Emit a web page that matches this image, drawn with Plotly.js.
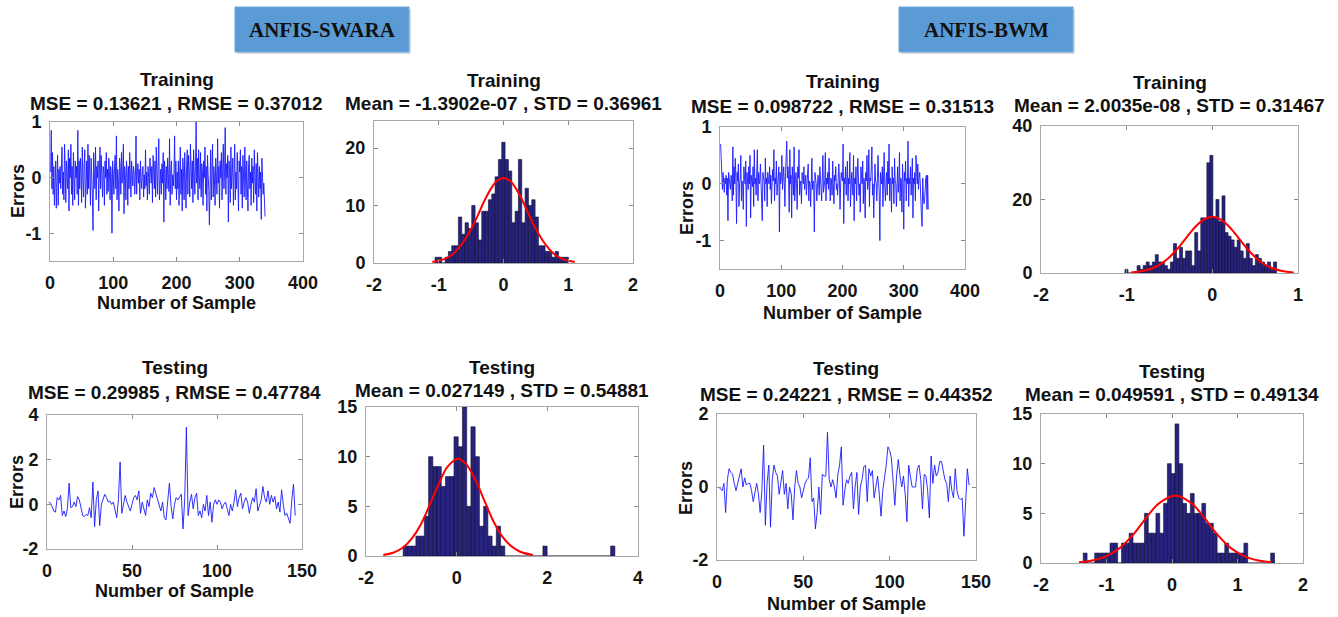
<!DOCTYPE html>
<html><head><meta charset="utf-8">
<script src="https://cdn.plot.ly/plotly-3.0.1.min.js"></script>
<style>html,body{margin:0;padding:0;background:#fff;}#chart{width:1338px;height:617px;}</style>
</head><body><div id="chart"></div>
<script>
// ---------------- DATA ----------------
const swaraTrainErr = [
0.1,0.85,-0.2,0.45,-0.3,0.2,-0.5,0.1,0.3,-0.55,0.0,0.4,-0.5,0.15,-0.1,0.2,-0.2,0.15,0.55,-0.3,
0.1,-0.4,0.6,0.2,-0.45,0.3,0.1,-0.2,0.5,-0.6,0.35,0.0,0.6,-0.3,0.2,-0.5,0.45,0.1,-0.4,0.3,
0.0,0.2,-0.3,0.85,-0.5,0.3,-0.2,0.35,0.1,-0.45,0.55,0.0,-0.35,0.25,0.5,-0.55,0.1,0.3,-0.3,0.6,
-0.2,0.4,0.0,-0.5,0.35,0.1,-0.3,-0.95,0.45,0.1,-0.2,0.55,-0.4,0.2,0.0,0.3,-0.6,0.1,0.55,-0.2,
0.4,0.05,-0.35,0.2,0.1,-0.5,0.3,0.0,0.45,-0.3,0.15,-0.25,0.35,0.1,-0.4,0.2,0.0,-1.0,0.3,0.05,
-0.3,0.2,0.4,-0.2,0.75,-0.4,0.15,0.0,-0.6,0.35,0.2,-0.3,0.45,-0.1,0.1,0.6,-0.65,0.2,0.05,-0.4,
0.3,0.1,-0.5,0.2,-0.2,0.45,0.05,-0.35,0.3,0.0,-0.15,0.2,0.1,-0.3,0.0,0.75,-0.3,0.1,0.25,-0.1,
0.15,-0.4,0.3,0.0,-0.2,0.1,0.2,-0.35,0.05,-0.2,0.5,-0.15,0.1,-0.4,0.2,0.0,-0.3,0.35,0.1,-0.1,
0.2,-0.45,0.4,0.0,-0.2,0.3,-0.35,0.55,0.05,-0.3,0.2,0.7,-0.4,0.0,0.15,-0.3,0.25,-0.1,0.45,-0.8,
0.3,0.1,-0.4,0.2,-0.2,0.35,0.0,-0.25,0.7,-0.5,0.1,0.3,-0.3,0.05,-0.15,0.1,0.75,-0.2,0.3,-0.4,
0.1,-0.2,0.3,-0.5,0.0,0.55,-0.3,0.15,-0.6,0.35,0.1,-0.4,0.45,0.0,-0.55,0.2,0.5,-0.3,0.4,0.1,
-0.35,0.6,0.05,-0.2,0.3,-0.45,0.5,0.1,-0.3,0.2,1.0,-0.1,0.35,-0.4,0.5,0.0,-0.2,0.45,-0.35,0.25,
0.1,-0.5,0.3,0.0,0.55,-0.3,0.2,-0.6,0.4,0.05,-0.2,-0.85,0.3,0.5,-0.4,0.1,0.6,-0.35,0.2,0.0,
-0.5,0.35,0.1,-0.3,0.7,-0.1,0.2,-0.55,0.3,0.0,0.45,-0.4,0.15,0.6,-0.2,0.1,0.9,-0.3,0.25,0.0,
0.4,-0.8,0.3,0.1,-0.45,0.55,-0.2,0.0,0.35,-0.5,0.2,0.6,-0.4,0.1,-0.2,0.45,0.0,-0.6,0.3,0.1,
0.5,-0.3,0.2,-0.55,0.4,0.0,-0.35,0.55,0.1,-0.4,0.3,0.0,-0.6,0.25,0.4,-0.2,0.1,-0.5,0.35,-0.1,
0.2,-0.45,0.5,0.0,-0.3,0.25,-0.6,0.45,0.1,-0.35,0.2,-0.2,0.1,-0.75,0.35,-0.2,-0.3,-0.1,-0.6,-0.7];

const bwmTrainErr = [
0.7,0.25,0.3,-0.1,0.2,0.05,-0.15,0.1,0.0,0.15,-0.2,0.1,-0.65,0.2,0.05,0.0,-0.1,0.15,0.1,-0.3,
0.65,-0.2,0.3,0.0,0.45,0.1,-0.7,0.2,0.05,0.35,-0.4,0.0,0.1,0.5,-0.3,0.05,0.0,-0.45,0.3,0.1,
0.0,0.4,-0.75,0.2,0.05,-0.1,0.3,0.0,0.5,-0.6,0.15,0.05,-0.05,0.3,-0.4,0.6,0.0,0.1,-0.2,0.05,
0.6,-0.3,0.2,0.0,0.05,0.35,-0.1,0.0,-0.65,0.2,0.1,0.05,-0.3,0.45,0.0,0.1,-0.4,0.2,0.05,0.0,
0.3,-0.1,0.15,-0.35,0.0,0.25,0.05,0.6,-0.3,0.1,0.0,0.4,-0.2,0.05,0.1,0.3,-0.85,0.2,0.0,0.1,
0.5,-0.1,0.05,0.3,0.0,-0.4,0.2,0.4,0.75,0.1,0.3,0.05,-0.5,0.6,0.0,0.15,-0.6,0.3,0.1,-0.2,
0.65,-0.3,0.05,0.2,0.0,-0.45,0.3,0.1,0.6,-0.2,0.0,0.05,-0.35,0.2,0.1,0.0,0.3,-0.1,0.05,0.15,
-0.2,0.0,0.1,0.35,-0.3,0.05,0.0,-0.4,0.2,0.45,-0.1,0.05,0.0,-0.85,0.2,0.1,0.0,-0.3,0.05,0.15,
0.0,-0.2,0.3,0.05,0.0,-0.3,0.1,0.5,-0.15,0.0,0.05,0.55,-0.3,0.1,0.0,0.2,-0.1,0.45,0.0,-0.3,
0.1,0.05,-0.2,0.4,0.0,-0.35,0.15,0.05,0.3,-0.1,0.0,-0.2,0.1,0.35,0.05,-0.45,0.0,0.2,0.1,0.05,
0.7,-0.7,0.1,0.0,0.3,-0.2,0.05,0.4,-0.3,0.1,0.0,0.55,-0.4,0.05,0.2,0.0,-0.2,0.5,-0.65,0.1,
0.0,0.3,-0.3,0.05,0.45,0.1,-0.2,0.0,-0.5,0.3,0.05,0.0,0.4,-0.35,0.1,0.0,-0.6,0.2,0.05,0.5,
-0.1,0.0,0.6,-0.4,0.1,0.05,0.3,0.65,-0.2,0.0,-0.6,0.1,0.35,0.05,0.0,-0.3,0.2,0.5,0.1,-0.2,
-1.0,0.2,0.05,0.0,0.3,-0.4,0.1,0.55,0.0,-0.3,0.05,0.2,-0.2,0.4,0.0,0.7,-0.3,0.1,0.05,-0.5,
0.3,0.0,0.1,-0.35,0.45,0.05,0.0,-0.4,0.2,0.3,-0.15,0.0,0.55,-0.3,0.1,0.05,-0.5,0.35,0.0,-0.8,
0.2,0.05,0.4,-0.3,0.1,0.0,0.75,-0.4,0.1,0.0,0.3,-0.2,0.05,0.45,-0.6,0.1,0.0,0.2,-0.3,0.5,
0.05,0.0,0.35,-0.1,0.1,0.2,0.0,-0.6,-0.6,-0.75,0.1,-0.2,-0.35,-0.3,0.05,0.1,0.15,-0.45,0.15,-0.45];

const swaraTestErr = [
0.1,0.05,-0.1,-0.3,-0.35,0.3,0.2,0.4,-0.5,-0.3,-0.55,-0.2,0.95,-0.15,-0.1,0.1,-0.1,0.35,0.2,-0.2,
-0.5,-0.55,-0.45,-0.5,-0.15,-0.6,1.0,-1.0,0.2,0.6,-0.95,0.0,0.2,0.45,0.3,0.1,0.15,0.0,0.1,-0.3,
-0.6,0.2,1.9,-0.4,0.0,0.4,0.1,-0.1,-0.3,0.0,0.3,0.4,0.2,0.6,-0.4,0.1,-0.2,-0.5,0.2,-0.1,
0.5,0.3,0.75,0.5,0.2,0.0,-0.3,0.1,-0.6,-0.7,0.3,0.95,-0.1,-0.65,0.0,0.3,0.2,0.35,0.45,-1.1,
0.2,3.45,-0.5,0.1,0.45,-0.2,0.3,0.5,-0.5,-0.3,-0.6,0.0,-0.3,0.4,-0.5,0.1,-0.8,0.0,0.2,0.0,
0.2,0.1,-0.2,0.0,0.1,-0.2,-0.5,0.0,-0.3,0.1,0.65,-0.1,0.3,0.5,-0.2,0.1,0.3,0.1,-0.4,0.0,
0.3,0.1,0.7,-0.3,0.0,0.2,0.8,0.3,0.1,0.6,0.0,0.4,0.1,0.35,-0.2,0.1,-0.35,0.65,0.0,-0.5,
-0.4,-0.6,-0.85,0.2,0.9,-0.5];

const bwmTestErr = [
0.0,-0.05,-0.1,0.1,-0.7,0.2,0.5,0.4,0.35,0.1,-0.1,0.1,0.3,0.5,0.0,0.25,0.05,0.1,0.1,-0.1,
-0.4,-0.1,0.1,-0.2,-0.7,-0.1,1.15,-1.05,0.1,0.6,-1.1,0.2,0.6,0.4,0.3,-0.2,0.2,0.45,-0.2,0.1,
-0.6,0.0,-0.2,-0.9,0.0,0.45,0.1,0.0,-0.3,-0.1,0.1,0.2,0.25,0.8,-0.4,-0.3,-1.15,-0.7,0.0,-0.75,
0.35,0.3,0.3,1.5,0.2,0.0,0.2,0.0,-0.3,0.35,0.6,1.1,-0.5,-0.1,0.2,0.1,0.3,0.4,-0.6,0.0,
0.4,-0.75,0.0,0.2,0.55,0.6,-0.4,0.5,0.3,0.45,-0.3,0.0,0.3,-0.2,-0.8,-0.1,0.2,0.6,1.1,1.0,
0.8,0.2,-0.5,0.3,0.75,0.3,0.0,0.3,-0.2,-0.95,0.6,0.3,0.0,0.0,0.0,0.5,0.6,0.2,-0.6,0.35,
0.3,-0.1,-0.85,0.85,0.1,0.6,0.3,0.4,0.7,0.7,0.4,0.2,0.1,-0.4,0.3,-0.1,-0.3,0.5,-0.1,-0.3,
-0.35,-0.3,-1.35,-0.2,0.5,0.05];

// Histogram bins (first bin left edge, bin width) and counts
const swaraTrainBinStart = -1.057, swaraTrainBinWidth = 0.0515;
const swaraTrainCounts = [1,1,0,1,2,3,3,8,5,7,6,10,7,4,9,9,11,12,15,18,21,18,16,7,9,18,7,13,10,11,8,3,3,2,2,1,2,1,1,1];

const bwmTrainBinStart = -1.02, bwmTrainBinWidth = 0.0354;
const bwmTrainCounts = [1,0,0,0,2,1,2,3,2,3,5,3,3,2,1,3,8,4,7,4,6,6,2,11,6,15,15,30,32,15,20,14,21,11,10,9,7,9,6,4,8,4,2,5,4,3,2,3,1,3];

const swaraTestBinStart = -1.18, swaraTestBinWidth = 0.0934;
const swaraTestCounts = [1,1,1,2,2,4,10,9,9,7,8,8,12,11,15,5,13,10,3,5,2,1,3,1,0,0,0,0,0,0,0,0,0,1,0,0,0,0,0,0,0,0,0,0,0,0,0,0,0,1];

const bwmTestBinStart = -1.355, bwmTestBinWidth = 0.0584;
const bwmTestCounts = [1,0,0,1,1,1,1,2,2,0,2,2,3,2,2,2,5,3,3,5,3,6,10,9,14,10,6,5,7,5,5,6,4,4,3,1,1,2,1,1,1,1,2,0,0,0,0,0,0,1];

// Fitted normal curves
const swaraTrainFitX = [-1.1,-1.0,-0.9,-0.8,-0.7,-0.6,-0.5,-0.4,-0.3,-0.2,-0.1,0,0.1,0.2,0.3,0.4,0.5,0.6,0.7,0.8,0.9,1.0,1.1];
const swaraTrainFitY = [0.18,0.38,0.77,1.4,2.5,4.0,5.9,8.2,10.7,12.8,14.3,14.8,14.3,12.8,10.7,8.2,5.9,4.0,2.5,1.4,0.77,0.38,0.18];
const bwmTrainFitX = [-0.95,-0.9,-0.8,-0.7,-0.6,-0.5,-0.4,-0.3,-0.2,-0.1,0,0.1,0.2,0.3,0.4,0.5,0.6,0.7,0.8,0.9,0.95];
const bwmTrainFitY = [0.15,0.26,0.6,1.3,2.5,4.3,6.8,9.7,12.5,14.5,15.3,14.5,12.5,9.7,6.8,4.3,2.5,1.3,0.6,0.26,0.15];
const swaraTestFitX = [-1.62,-1.4,-1.2,-1.0,-0.8,-0.6,-0.4,-0.2,0.03,0.2,0.4,0.6,0.8,1.0,1.2,1.4,1.68];
const swaraTestFitY = [0.11,0.33,0.8,1.7,3.1,5.1,7.2,9.0,9.8,9.3,7.8,5.7,3.6,2.0,1.0,0.43,0.11];
const bwmTestFitX = [-1.42,-1.2,-1.0,-0.8,-0.6,-0.4,-0.2,0.05,0.3,0.5,0.7,0.9,1.1,1.3,1.52];
const bwmTestFitY = [0.08,0.27,0.7,1.5,2.8,4.5,6.0,6.8,6.0,4.5,2.8,1.5,0.7,0.27,0.08];

// Titles / labels
const groupLabels = ['ANFIS-SWARA','ANFIS-BWM'];
const panelTitles = [
  ['Training','MSE = 0.13621 , RMSE = 0.37012'],
  ['Training','Mean = -1.3902e-07 , STD = 0.36961'],
  ['Training','MSE = 0.098722 , RMSE = 0.31513'],
  ['Training','Mean = 2.0035e-08 , STD = 0.31467'],
  ['Testing','MSE = 0.29985 , RMSE = 0.47784'],
  ['Testing','Mean = 0.027149 , STD = 0.54881'],
  ['Testing','MSE = 0.24221 , RMSE = 0.44352'],
  ['Testing','Mean = 0.049591 , STD = 0.49134']
];
const xLabel = 'Number of Sample', yLabel = 'Errors';

// Tick values
const ticksTrainErrX = [0,100,200,300,400], ticksTrainErrY = [-1,0,1];
const ticksTestErrX = [0,50,100,150];
const ticksSwaraTestErrY = [-2,0,2,4], ticksBwmTestErrY = [-2,0,2];
const ticksSwaraTrainHistX = [-2,-1,0,1,2], ticksSwaraTrainHistY = [0,10,20];
const ticksBwmTrainHistX = [-2,-1,0,1], ticksBwmTrainHistY = [0,20,40];
const ticksSwaraTestHistX = [-2,0,2,4], ticksTestHistY = [0,5,10,15];
const ticksBwmTestHistX = [-2,-1,0,1,2];

// ---------------- BUILD ----------------
const W = 1338, H = 617;
const FONT = 'Liberation Sans, Arial, Helvetica, sans-serif';
const idx = a => a.map((_, i) => i + 1);
const centers = (start, w, counts) => counts.map((_, i) => start + w * (i + 0.5));
const labels = t => t.map(v => String(v));

const panels = [
  {kind:'line', y:swaraTrainErr, px:[50,303], py:[122,261], xr:[0,400], yr:[-1.5,1], xt:ticksTrainErrX, yt:ticksTrainErrY, t1:[79,103], xl:303, yl:[18,191]},
  {kind:'hist', s:swaraTrainBinStart, w:swaraTrainBinWidth, c:swaraTrainCounts, fx:swaraTrainFitX, fy:swaraTrainFitY, px:[374,633], py:[121,263], xr:[-2,2], yr:[0,24.7], xt:ticksSwaraTrainHistX, yt:ticksSwaraTrainHistY, t1:[80,103]},
  {kind:'line', y:bwmTrainErr, px:[720,965], py:[127,269], xr:[0,400], yr:[-1.5,1], xt:ticksTrainErrX, yt:ticksTrainErrY, t1:[82,107], xl:313, yl:[687,208]},
  {kind:'hist', s:bwmTrainBinStart, w:bwmTrainBinWidth, c:bwmTrainCounts, fx:bwmTrainFitX, fy:bwmTrainFitY, px:[1041,1298], py:[126,273], xr:[-2,1], yr:[0,40], xt:ticksBwmTrainHistX, yt:ticksBwmTrainHistY, t1:[83,105]},
  {kind:'line', y:swaraTestErr, px:[47,302], py:[415,549], xr:[0,150], yr:[-2,4], xt:ticksTestErrX, yt:ticksSwaraTestErrY, t1:[367,392], xl:591, yl:[17,482]},
  {kind:'hist', s:swaraTestBinStart, w:swaraTestBinWidth, c:swaraTestCounts, fx:swaraTestFitX, fy:swaraTestFitY, px:[366,638], py:[407,556], xr:[-2,4], yr:[0,15], xt:ticksSwaraTestHistX, yt:ticksTestHistY, t1:[367,390]},
  {kind:'line', y:bwmTestErr, px:[717,976], py:[414,560], xr:[0,150], yr:[-2,2], xt:ticksTestErrX, yt:ticksBwmTestErrY, t1:[368,394], xl:604, yl:[686,488]},
  {kind:'hist', s:bwmTestBinStart, w:bwmTestBinWidth, c:bwmTestCounts, fx:bwmTestFitX, fy:bwmTestFitY, px:[1041,1303], py:[414,563], xr:[-2,2], yr:[0,15], xt:ticksBwmTestHistX, yt:ticksTestHistY, t1:[371,394]}
];

const data = [];
const layout = {
  width: W, height: H, margin:{l:0,r:0,t:0,b:0},
  paper_bgcolor:'#fff', plot_bgcolor:'#fff', showlegend:false, bargap:0,
  annotations: [], shapes: []
};
const tickfont = {family:FONT, size:18, color:'#151515', weight:'bold'};
const axisBase = {showgrid:false, zeroline:false, showline:true, linecolor:'#a8a8a8', linewidth:1,
  mirror:'ticks', ticks:'inside', ticklen:4, tickcolor:'#8a8a8a', tickfont, fixedrange:true, tickmode:'array'};

panels.forEach((p, k) => {
  const n = k + 1;
  const xa = n === 1 ? 'x' : 'x' + n, ya = n === 1 ? 'y' : 'y' + n;
  const xk = n === 1 ? 'xaxis' : 'xaxis' + n, yk = n === 1 ? 'yaxis' : 'yaxis' + n;
  layout[xk] = Object.assign({}, axisBase, {domain:[p.px[0]/W, p.px[1]/W], range:p.xr, tickvals:p.xt, ticktext:labels(p.xt), anchor:ya, ticklabelstandoff:5});
  layout[yk] = Object.assign({}, axisBase, {domain:[1-p.py[1]/H, 1-p.py[0]/H], range:p.yr, tickvals:p.yt, ticktext:labels(p.yt), anchor:xa, ticklabelstandoff:4});
  if (p.kind === 'line') {
    data.push({type:'scatter', mode:'lines', x:idx(p.y), y:p.y, xaxis:xa, yaxis:ya,
      line:{color:'#1a1aff', width:0.9}, hoverinfo:'skip'});
  } else {
    data.push({type:'bar', x:centers(p.s, p.w, p.c), y:p.c, width:p.w, xaxis:xa, yaxis:ya,
      marker:{color:'#27237f', line:{color:'#0d0d30', width:0.6}}, hoverinfo:'skip'});
    data.push({type:'scatter', mode:'lines', x:p.fx, y:p.fy, xaxis:xa, yaxis:ya,
      line:{color:'#ff0000', width:2, shape:'spline', smoothing:1}, hoverinfo:'skip'});
  }
  const cx = (p.px[0] + p.px[1]) / 2 / W;
  panelTitles[k].forEach((t, j) => {
    layout.annotations.push({xref:'paper', yref:'paper', x:cx, y:1 - p.t1[j]/H, xanchor:'center', yanchor:'middle',
      text:'<b>' + t + '</b>', showarrow:false, font:{family:FONT, size:19, color:'#111'}});
  });
  if (p.kind === 'line') {
    layout.annotations.push({xref:'paper', yref:'paper', x:cx, y:1 - p.xl/H, xanchor:'center', yanchor:'middle',
      text:'<b>' + xLabel + '</b>', showarrow:false, font:{family:FONT, size:18, color:'#111'}});
    layout.annotations.push({xref:'paper', yref:'paper', x:p.yl[0]/W, y:1 - p.yl[1]/H, xanchor:'center', yanchor:'middle',
      text:'<b>' + yLabel + '</b>', textangle:-90, showarrow:false, font:{family:FONT, size:18, color:'#111'}});
  }
});

// group banners
const banners = [[235,409],[899,1073]];
banners.forEach((b, i) => {
  layout.shapes.push({type:'rect', xref:'paper', yref:'paper', x0:(b[0]+2)/W, x1:(b[1]+2)/W, y0:1-54/H, y1:1-9/H,
    fillcolor:'#d9dde3', line:{width:0}, layer:'below'});
  layout.shapes.push({type:'rect', xref:'paper', yref:'paper', x0:b[0]/W, x1:b[1]/W, y0:1-52/H, y1:1-7/H,
    fillcolor:'#5b9bd5', line:{color:'#6aa6dc', width:1}, layer:'below'});
  layout.annotations.push({xref:'paper', yref:'paper', x:(b[0]+b[1])/2/W, y:1-30/H, xanchor:'center', yanchor:'middle',
    text:'<b>' + groupLabels[i] + '</b>', showarrow:false, font:{family:'Liberation Serif, Times New Roman, serif', size:21, color:'#111'}});
});

Plotly.newPlot('chart', data, layout, {staticPlot:true, displayModeBar:false});
</script>
</body></html>
